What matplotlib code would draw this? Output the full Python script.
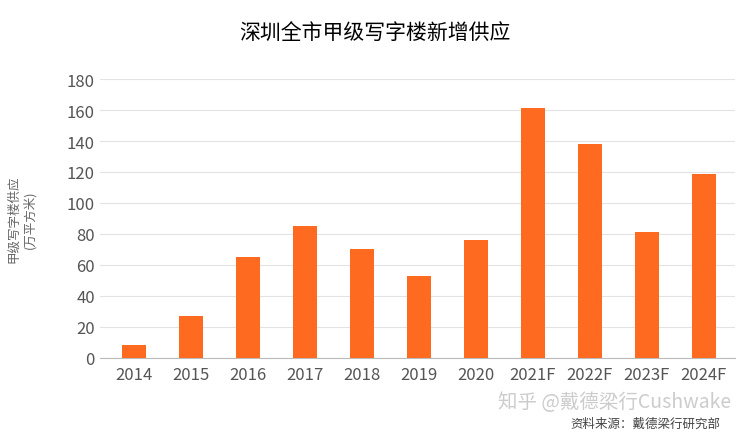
import matplotlib
matplotlib.use('Agg')
from matplotlib import pyplot as plt

plt.rcParams['font.family'] = ['Noto Sans CJK SC', 'DejaVu Sans']

years = ['2014', '2015', '2016', '2017', '2018', '2019', '2020', '2021F', '2022F', '2023F', '2024F']
supply = [8, 27, 65, 85, 70, 53, 76, 161, 138, 81, 119]

fig = plt.figure(figsize=(7.5, 4.35), dpi=100)
ax = fig.add_axes([0.133, 0.175, 0.847, 0.641])
ax.bar(range(len(years)), supply, width=0.42, color='#FF6A21', zorder=3)
ax.set_xlim(-0.6, len(years) - 0.45)
ax.set_ylim(0, 180)
ax.set_yticks(range(0, 181, 20))
ax.set_xticks(range(len(years)))
ax.set_xticklabels(years)
ax.grid(axis='y', color='#E3E3E3', linewidth=0.8, zorder=0)
for s in ['top', 'right', 'left']:
    ax.spines[s].set_visible(False)
ax.spines['bottom'].set_color('#BBBBBB')
ax.tick_params(length=0, labelsize=12, colors='#555555')
ax.tick_params(axis='x', pad=6)
ax.set_ylabel('甲级写字楼供应\n(万平方米)', fontsize=9, color='#666666', labelpad=22)
fig.text(0.5, 0.925, '深圳全市甲级写字楼新增供应', ha='center', va='center', fontsize=15)
fig.text(0.975, 0.075, '知乎 @戴德梁行Cushwake', ha='right', va='center', fontsize=14, color='#CCCCCC')
fig.text(0.96, 0.025, '资料来源：戴德梁行研究部', ha='right', va='center', fontsize=9, color='#444444')
fig.savefig('out.png')
